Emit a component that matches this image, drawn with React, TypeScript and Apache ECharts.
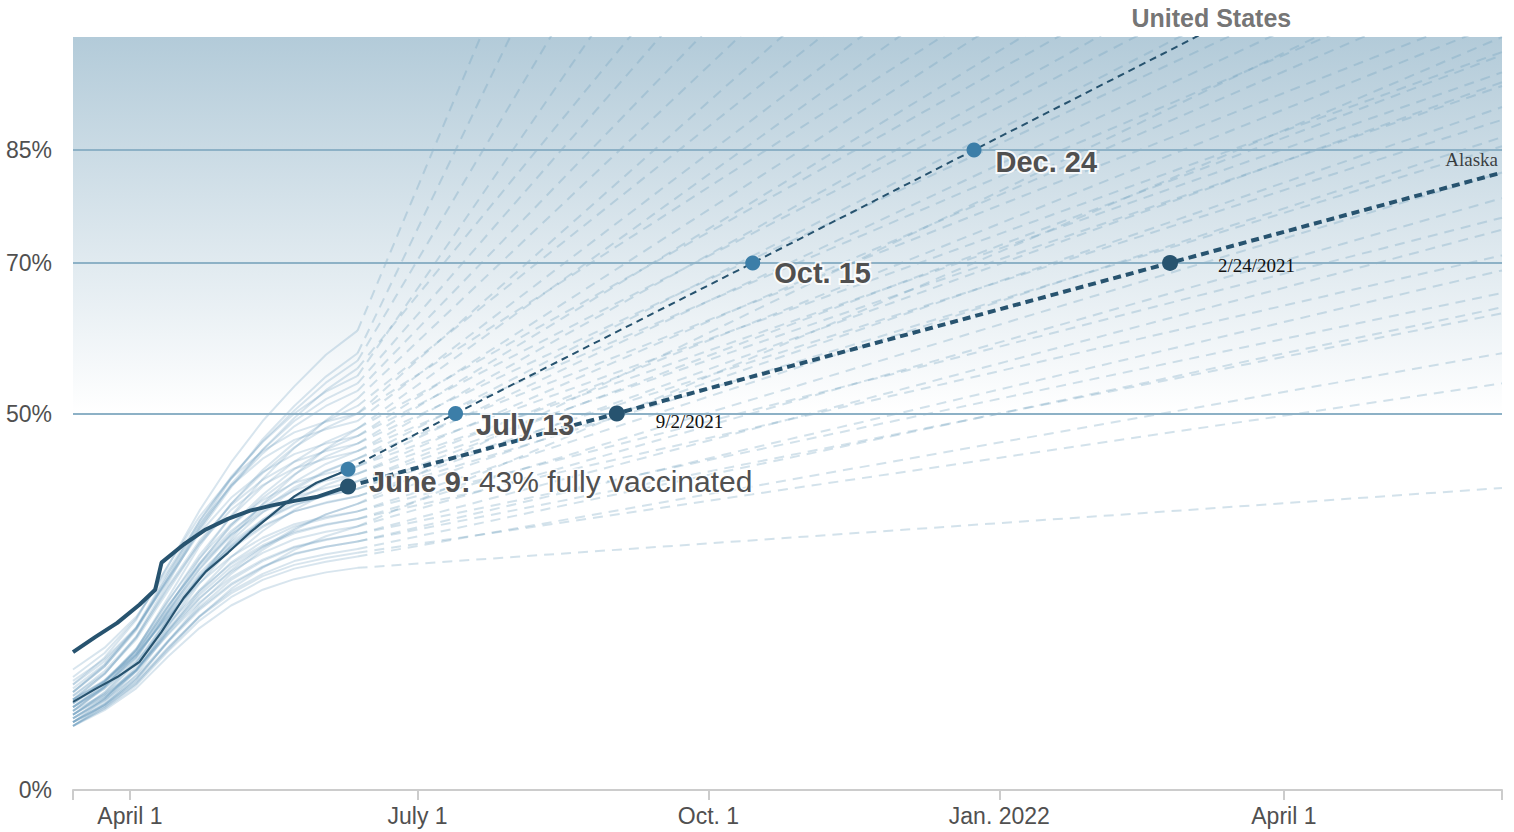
import React, { useEffect, useRef } from "react";
import * as echarts from "echarts";

// ---------- DATA ----------
const STATE_DATES = ["2021-03-14", "2021-03-24", "2021-04-03", "2021-04-13", "2021-04-23", "2021-05-03", "2021-05-13", "2021-05-23", "2021-06-02", "2021-06-12"];
const PROJECTION_END = "2022-06-09";

const STATE_VALUES: number[][] = [
  [15, 18.2, 22.8, 29.7, 37.1, 43.5, 49.0, 53.6, 57.8, 61],
  [14, 17.1, 21.5, 28.1, 35.1, 41.3, 46.6, 51.0, 54.9, 58],
  [16, 18.9, 23.0, 29.1, 35.7, 41.4, 46.3, 50.4, 54.1, 57],
  [13, 16.4, 21.4, 28.5, 35.7, 41.6, 46.2, 50.0, 52.9, 55],
  [14.5, 17.4, 21.6, 27.8, 34.4, 40.2, 45.2, 49.4, 53.1, 56],
  [12, 15.4, 20.4, 27.5, 34.7, 40.6, 45.2, 49.0, 51.9, 54],
  [13.5, 16.7, 21.4, 28.1, 34.8, 40.4, 44.7, 48.3, 51.0, 53],
  [11, 13.9, 18.0, 24.1, 30.7, 36.4, 41.3, 45.4, 49.1, 52],
  [12.5, 15.5, 20.0, 26.4, 32.8, 38.0, 42.1, 45.5, 48.1, 50],
  [10.5, 13.7, 18.6, 25.5, 32.4, 38.0, 42.5, 46.1, 49.0, 51],
  [13, 16.6, 21.6, 28.8, 35.3, 40.4, 44.0, 46.5, 47.9, 49],
  [11.5, 14.4, 18.8, 25.0, 31.2, 36.3, 40.3, 43.6, 46.2, 48],
  [14, 17.6, 22.6, 29.8, 36.3, 41.4, 45.0, 47.5, 48.9, 50],
  [10, 13.0, 17.4, 23.7, 30.0, 35.2, 39.2, 42.6, 45.2, 47],
  [12, 15.4, 20.2, 27.0, 33.1, 37.8, 41.2, 43.6, 45.0, 46],
  [9.5, 12.2, 16.0, 21.8, 28.0, 33.4, 38.0, 41.8, 45.3, 48],
  [11, 13.7, 17.8, 23.6, 29.4, 34.1, 37.9, 40.9, 43.3, 45],
  [13, 16.4, 21.2, 28.0, 34.1, 38.8, 42.2, 44.6, 46.0, 47],
  [10, 12.7, 16.8, 22.6, 28.4, 33.1, 36.9, 39.9, 42.3, 44],
  [11.5, 14.3, 18.4, 24.3, 30.1, 35.0, 38.8, 41.9, 44.3, 46],
  [9, 11.7, 15.8, 21.6, 27.4, 32.1, 35.9, 38.9, 41.3, 43],
  [12.5, 15.8, 20.3, 26.8, 32.7, 37.2, 40.5, 42.7, 44.0, 45],
  [10.5, 13.7, 18.1, 24.4, 30.0, 34.4, 37.6, 39.8, 41.1, 42],
  [12, 14.6, 18.4, 23.8, 29.3, 33.8, 37.3, 40.2, 42.4, 44],
  [9.5, 12.0, 15.8, 21.2, 26.5, 30.9, 34.4, 37.2, 39.4, 41],
  [11, 14.2, 18.7, 25.1, 30.8, 35.3, 38.5, 40.8, 42.0, 43],
  [9, 12.1, 16.4, 22.6, 28.2, 32.6, 35.7, 37.8, 39.1, 40],
  [12, 14.4, 18.0, 23.1, 28.2, 32.4, 35.7, 38.4, 40.5, 42],
  [10, 12.9, 17.0, 22.8, 28.0, 32.0, 34.9, 37.0, 38.1, 39],
  [11.5, 14.5, 18.6, 24.5, 29.8, 33.9, 36.9, 38.9, 40.1, 41],
  [9, 11.3, 14.8, 19.7, 24.7, 28.7, 31.9, 34.5, 36.6, 38],
  [10.5, 13.5, 17.6, 23.5, 28.8, 32.9, 35.9, 37.9, 39.1, 40],
  [8.5, 11.4, 15.3, 21.0, 26.2, 30.2, 33.0, 35.0, 36.1, 37],
  [11, 13.8, 17.7, 23.3, 28.4, 32.3, 35.1, 37.0, 38.2, 39],
  [9.5, 12.2, 15.9, 21.2, 25.9, 29.6, 32.3, 34.1, 35.2, 36],
  [10, 12.5, 16.0, 21.0, 25.5, 29.0, 31.5, 33.3, 34.3, 35],
  [12, 14.5, 18.0, 23.0, 27.5, 31.0, 33.5, 35.3, 36.3, 37],
  [8.5, 11.1, 14.6, 19.7, 24.3, 27.9, 30.4, 32.2, 33.2, 34],
  [11, 13.5, 17.0, 22.0, 26.5, 30.0, 32.5, 34.3, 35.3, 36],
  [9, 11.4, 14.8, 19.6, 23.9, 27.2, 29.6, 31.3, 32.3, 33],
  [10, 12.4, 15.8, 20.6, 24.9, 28.2, 30.6, 32.3, 33.3, 34],
  [8.5, 10.9, 14.1, 18.8, 23.1, 26.4, 28.7, 30.4, 31.3, 32],
  [9.5, 11.9, 15.1, 19.8, 24.1, 27.4, 29.7, 31.4, 32.3, 33],
  [8.5, 10.8, 13.9, 18.4, 22.5, 25.6, 27.9, 29.4, 30.3, 31],
  [9, 11.3, 14.4, 18.9, 23.0, 26.1, 28.4, 29.9, 30.8, 31.5],
  [8.5, 10.6, 13.5, 17.7, 21.5, 24.5, 26.6, 28.0, 28.9, 29.5],
  [10.5, 12.7, 16.0, 20.7, 25.4, 29.2, 32.2, 34.7, 36.6, 38],
  [9, 11.1, 14.2, 18.6, 23.0, 26.7, 29.5, 31.9, 33.7, 35],
];
const STATE_PROJECTED_END: number[] = [
  424, 373, 312, 276, 241, 228, 210, 196, 185, 172,
  165, 158, 148, 145, 139, 133, 130, 125, 122, 117,
  114.5, 110, 108, 104, 102, 98, 97.6, 95.3, 94, 93.5,
  90.7, 89, 86.7, 85.5, 82, 78.6, 76, 74.4, 71, 69,
  66, 64.1, 63.3, 58, 54, 40.1, 112, 100,
];

const US_DATES = ["2021-03-14", "2021-03-21", "2021-03-28", "2021-04-04", "2021-04-11", "2021-04-18", "2021-04-25", "2021-05-02", "2021-05-09", "2021-05-16", "2021-05-23", "2021-05-30", "2021-06-06", "2021-06-09"];
const US_VALUES = [11.7, 13.4, 15.0, 17.0, 21.0, 25.5, 29.0, 31.5, 34.2, 36.6, 39.0, 40.8, 42.0, 42.6];
const US_PROJ_DATES = ["2021-06-09", "2021-07-13", "2021-10-15", "2021-12-24", "2022-06-09"];
const US_PROJ_VALUES = [42.6, 50, 70, 85, 120.7];
const US_MILESTONE_DATES = ["2021-06-09", "2021-07-13", "2021-10-15", "2021-12-24"];
const US_MILESTONE_VALUES = [42.6, 50, 70, 85];
const US_MILESTONE_LABELS = ["", "July 13", "Oct. 15", "Dec. 24"];
const US_LABEL_POINT: [string, number] = ["2022-03-04", 100];

const ALASKA_DATES = ["2021-03-14", "2021-03-21", "2021-03-28", "2021-04-04", "2021-04-09", "2021-04-11", "2021-04-18", "2021-04-25", "2021-05-02", "2021-05-09", "2021-05-16", "2021-05-23", "2021-05-30", "2021-06-06", "2021-06-09"];
const ALASKA_VALUES = [18.3, 20.3, 22.2, 24.6, 26.6, 30.2, 32.6, 34.6, 36.0, 37.1, 37.8, 38.4, 38.9, 39.9, 40.3];
const ALASKA_PROJ_DATES = ["2021-06-09", "2021-09-02", "2022-02-24", "2022-06-09"];
const ALASKA_PROJ_VALUES = [40.3, 50, 70, 82];
const ALASKA_MILESTONE_DATES = ["2021-06-09", "2021-09-02", "2022-02-24"];
const ALASKA_MILESTONE_VALUES = [40.3, 50, 70];
const ALASKA_MILESTONE_LABELS = ["June 9:", "9/2/2021", "2/24/2021"];
const ALASKA_JUNE9_NOTE = "43% fully vaccinated";

const X_MIN = "2021-03-14";
const X_MAX = "2022-06-09";
const X_TICK_DATES = ["2021-04-01", "2021-07-01", "2021-10-01", "2022-01-01", "2022-04-01"];
const X_TICK_LABELS = ["April 1", "July 1", "Oct. 1", "Jan. 2022", "April 1"];
const Y_TICKS = [0, 50, 70, 85];
const GOAL_LINES = [50, 70, 85];

// ---------- HELPERS ----------
const ts = (s: string) => new Date(s + "T00:00:00").getTime();
const SANS = "'Liberation Sans', Arial, Helvetica, sans-serif";
const SERIF = "'Liberation Serif', 'Times New Roman', serif";
const TEXT_GRAY = "#505050";
const NAVY = "#27536f";
const US_DOT = "#3c7ea8";

function buildOption(): any {
  const series: any[] = [];

  // background gradient + goal lines
  series.push({
    type: "line",
    data: [],
    silent: true,
    z: 0,
    markArea: {
      silent: true,
      itemStyle: {
        color: {
          type: "linear", x: 0, y: 0, x2: 0, y2: 1,
          colorStops: [
            { offset: 0, color: "#b3cbd9" },
            { offset: 1, color: "#ffffff" },
          ],
        },
      },
      data: [[{ yAxis: 50 }, { yAxis: 100 }]],
    },
  });
  series.push({
    type: "line",
    data: [],
    silent: true,
    z: 1,
    markLine: {
      silent: true,
      symbol: "none",
      label: { show: false },
      lineStyle: { type: "solid", color: "#8db1c6", width: 2 },
      data: GOAL_LINES.map((v) => ({ yAxis: v })),
    },
  });

  STATE_VALUES.forEach((vals, i) => {
    series.push({
      type: "line",
      silent: true,
      symbol: "none",
      z: 2,
      lineStyle: { color: "rgba(105,155,188,0.26)", width: 2 },
      data: vals.map((v, j) => [ts(STATE_DATES[j]), v]),
    });
    series.push({
      type: "line",
      silent: true,
      symbol: "none",
      z: 2,
      lineStyle: { color: "rgba(110,160,190,0.3)", width: 2, type: [10, 7] },
      data: [
        [ts(STATE_DATES[STATE_DATES.length - 1]), vals[vals.length - 1]],
        [ts(PROJECTION_END), STATE_PROJECTED_END[i]],
      ],
    });
  });

  // US
  series.push({
    type: "line", silent: true, symbol: "none", z: 5,
    lineStyle: { color: NAVY, width: 2.2 },
    data: US_VALUES.map((v, j) => [ts(US_DATES[j]), v]),
  });
  series.push({
    type: "line", silent: true, symbol: "none", z: 5,
    lineStyle: { color: NAVY, width: 2, type: [7, 5] },
    data: US_PROJ_VALUES.map((v, j) => [ts(US_PROJ_DATES[j]), v]),
  });

  // Alaska
  series.push({
    type: "line", silent: true, symbol: "none", z: 5,
    lineStyle: { color: NAVY, width: 4 },
    data: ALASKA_VALUES.map((v, j) => [ts(ALASKA_DATES[j]), v]),
  });
  series.push({
    type: "line", silent: true, symbol: "none", z: 5,
    lineStyle: { color: NAVY, width: 4, type: [8, 5] },
    data: ALASKA_PROJ_VALUES.map((v, j) => [ts(ALASKA_PROJ_DATES[j]), v]),
  });

  const haloBold = {
    fontFamily: SANS, fontWeight: "bold", fontSize: 29, color: TEXT_GRAY,
    textBorderColor: "rgba(255,255,255,0.85)", textBorderWidth: 4,
  };
  const usOffsets = [[0, 0], [8, 11], [9, 10], [9, 12]];
  series.push({
    type: "scatter", silent: true, z: 6, clip: false,
    symbolSize: 15,
    itemStyle: { color: US_DOT, opacity: 1 },
    data: US_MILESTONE_VALUES.map((v, j) => ({
      value: [ts(US_MILESTONE_DATES[j]), v],
      label: {
        show: US_MILESTONE_LABELS[j] !== "",
        position: "right",
        offset: usOffsets[j],
        formatter: US_MILESTONE_LABELS[j],
        ...haloBold,
      },
    })),
  });

  const akOffsets = [[8, -5], [26, 8], [35, 3]];
  series.push({
    type: "scatter", silent: true, z: 6, clip: false,
    symbolSize: 16,
    itemStyle: { color: NAVY, opacity: 1 },
    data: ALASKA_MILESTONE_VALUES.map((v, j) => {
      const text = ALASKA_MILESTONE_LABELS[j];
      const label: any =
        j === 0
          ? {
              show: true,
              position: "right",
              offset: akOffsets[j],
              formatter: "{b|" + text + "}{n| " + ALASKA_JUNE9_NOTE + "}",
              rich: {
                b: { ...haloBold, textBorderWidth: 3 },
                n: { fontFamily: SANS, fontSize: 30, color: TEXT_GRAY, textBorderColor: "rgba(255,255,255,0.85)", textBorderWidth: 3 },
              },
            }
          : {
              show: true,
              position: "right",
              offset: akOffsets[j],
              formatter: text,
              fontFamily: SERIF, fontSize: 19, color: "#111",
            };
      return { value: [ts(ALASKA_MILESTONE_DATES[j]), v], label };
    }),
  });

  // name labels
  series.push({
    type: "scatter", silent: true, z: 6, clip: false,
    symbolSize: 0,
    data: [
      {
        value: [ts(X_MAX), ALASKA_PROJ_VALUES[ALASKA_PROJ_VALUES.length - 1]],
        label: { show: true, position: "left", distance: 0, offset: [-4, -13], formatter: "Alaska", fontFamily: SERIF, fontSize: 19, color: "#111" },
      },
      {
        value: [ts(US_LABEL_POINT[0]), US_LABEL_POINT[1]],
        label: { show: true, position: "top", offset: [16, -2], formatter: "United States", fontFamily: SANS, fontWeight: "bold", fontSize: 25, color: TEXT_GRAY },
      },
    ],
  });

  return {
    animation: false,
    grid: { left: 73, right: 12, top: 37, bottom: 42, containLabel: false },
    xAxis: {
      type: "value",
      min: ts(X_MIN),
      max: ts(X_MAX),
      splitLine: { show: false },
      axisLine: { show: true, lineStyle: { color: "#cccccc", width: 2 } },
      axisTick: {
        show: true,
        length: 10,
        lineStyle: { color: "#cccccc", width: 2 },
        customValues: [ts(X_MIN), ...X_TICK_DATES.map(ts), ts(X_MAX)],
      },
      axisLabel: {
        show: true,
        customValues: X_TICK_DATES.map(ts),
        margin: 14,
        fontFamily: SANS,
        fontSize: 23,
        color: TEXT_GRAY,
        formatter: (v: number) => {
          const idx = X_TICK_DATES.findIndex((d) => Math.abs(ts(d) - v) < 3600 * 1000 * 24);
          return idx >= 0 ? X_TICK_LABELS[idx] : "";
        },
      },
    },
    yAxis: {
      type: "value",
      min: 0,
      max: 100,
      splitLine: { show: false },
      axisLine: { show: false },
      axisTick: { show: false },
      axisLabel: {
        show: true,
        customValues: Y_TICKS,
        margin: 21,
        fontFamily: SANS,
        fontSize: 23,
        color: TEXT_GRAY,
        formatter: (v: number) => v + "%",
      },
    },
    series,
  };
}

export default function App() {
  const ref = useRef<HTMLDivElement>(null);
  useEffect(() => {
    if (!ref.current) return;
    const chart = echarts.init(ref.current, null, { renderer: "svg" });
    chart.setOption(buildOption());
    return () => chart.dispose();
  }, []);
  return (
    <div
      ref={ref}
      style={{ position: "absolute", left: 0, top: 0, width: 1514, height: 832, background: "#fff" }}
    />
  );
}
